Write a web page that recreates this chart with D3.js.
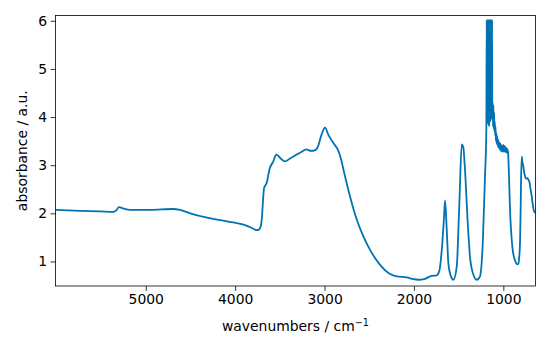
<!DOCTYPE html>
<html>
<head>
<meta charset="utf-8">
<script src="https://cdn.jsdelivr.net/npm/d3@7"></script>
<style>
  body { margin: 0; background: #fff; }
  svg { font-family: "DejaVu Sans", sans-serif; }
</style>
</head>
<body>
<div id="chart"></div>
<script>
// spectrum (wavenumber in cm^-1, absorbance)
const wavenumbers = [
  6010, 5735, 5511, 5366, 5332, 5299, 5265, 5176, 4952, 4695, 4616, 4504, 4314, 4169, 4023,
  3867, 3800, 3758, 3733, 3716, 3699, 3688, 3677, 3646, 3617, 3573, 3542, 3520, 3498, 3442,
  3386, 3330, 3274, 3199, 3162, 3125, 3080, 3031, 2994, 2957, 2901, 2846, 2827, 2771, 2715,
  2640, 2566, 2491, 2379, 2267, 2192, 2080, 2021, 1951, 1876, 1801, 1745, 1716, 1686, 1664,
  1652, 1633, 1615, 1588, 1559, 1521, 1492, 1465, 1448, 1429, 1398, 1373, 1339, 1297, 1261,
  1230, 1205, 1190,
  1186, 1183, 1180, 1177, 1174, 1171, 1168, 1165, 1162, 1159, 1156, 1153, 1150, 1147, 1144,
  1141, 1138, 1135, 1132, 1129, 1126, 1123,
  1119, 1115, 1111, 1107, 1103, 1099, 1095, 1091, 1087, 1083, 1079, 1075, 1071, 1067, 1063,
  1059, 1055, 1051, 1047, 1043, 1039, 1035, 1031, 1027, 1023, 1019, 1015, 1011, 1007, 1003,
  999, 995, 991, 987, 983, 979, 975, 971, 967, 963, 959, 955, 951, 947,
  937, 925, 910, 895, 875, 858, 845, 832, 822, 813, 806, 802, 794, 785, 776,
  767, 757, 744, 731, 720, 709, 695, 682, 670, 656, 640
];
const absorbance = [
  2.07, 2.05, 2.04, 2.03, 2.06, 2.13, 2.11, 2.07, 2.07, 2.09, 2.07, 2.00, 1.91, 1.86, 1.81,
  1.74, 1.68, 1.65, 1.66, 1.72, 1.95, 2.28, 2.52, 2.64, 2.91, 3.08, 3.22, 3.20, 3.15, 3.08,
  3.14, 3.20, 3.26, 3.33, 3.30, 3.30, 3.36, 3.65, 3.78, 3.63, 3.46, 3.30, 3.20, 2.77, 2.35,
  1.87, 1.52, 1.24, 0.93, 0.74, 0.69, 0.67, 0.64, 0.62, 0.64, 0.70, 0.71, 0.80, 1.30, 1.90,
  2.27, 1.66, 0.97, 0.70, 0.62, 0.90, 2.20, 3.43, 3.38, 2.91, 1.80, 1.10, 0.75, 0.62, 0.69,
  1.38, 2.77, 3.74,
  6.02, 3.90, 6.02, 4.10, 6.02, 3.85, 6.02, 4.00, 6.02, 3.80, 6.02, 4.20, 6.02, 3.90, 6.02,
  4.10, 6.02, 3.95, 6.02, 4.30, 6.02, 4.00,
  4.30, 3.80, 4.25, 3.75, 4.10, 3.70, 3.90, 3.62, 3.80, 3.50, 3.68, 3.45, 3.62, 3.42, 3.55,
  3.38, 3.52, 3.36, 3.48, 3.34, 3.46, 3.32, 3.44, 3.30, 3.42, 3.30, 3.40, 3.28, 3.40, 3.30,
  3.42, 3.28, 3.38, 3.30, 3.40, 3.27, 3.37, 3.28, 3.36, 3.26, 3.35, 3.27, 3.32, 3.28,
  2.80, 2.07, 1.55, 1.24, 1.05, 0.97, 0.94, 0.95, 1.10, 1.39, 2.10, 2.64, 3.18, 3.05, 2.98,
  2.85, 2.77, 2.72, 2.73, 2.70, 2.66, 2.50, 2.35, 2.18, 2.04, 2.01
];
const xTicks = [5000, 4000, 3000, 2000, 1000];
const yTicks = [1, 2, 3, 4, 5, 6];

const data = wavenumbers.map((w, i) => ({ w, a: absorbance[i] }));

const W = 550, H = 350;
const margin = { top: 15.5, right: 14.5, bottom: 64, left: 55.5 };
const width = W - margin.left - margin.right;
const height = H - margin.top - margin.bottom;

const svg = d3.select('#chart').append('svg')
  .attr('width', W)
  .attr('height', H);

const g = svg.append('g')
  .attr('transform', `translate(${margin.left},${margin.top})`);

const x = d3.scaleLinear().domain([6010, 640]).range([0, width]);
const y = d3.scaleLinear().domain([0.49, 6.11]).range([height, 0]);

g.append('clipPath').attr('id', 'clip')
  .append('rect').attr('width', width).attr('height', height);

const line = d3.line()
  .x(d => x(d.w))
  .y(d => y(d.a))
  .curve(d3.curveMonotoneX);

g.append('path')
  .datum(data)
  .attr('clip-path', 'url(#clip)')
  .attr('fill', 'none')
  .attr('stroke', '#0173b2')
  .attr('stroke-width', 1.8)
  .attr('stroke-linejoin', 'round')
  .attr('d', line);

// axes
const xAxis = g.append('g')
  .attr('transform', `translate(0,${height})`)
  .call(d3.axisBottom(x).tickValues(xTicks).tickFormat(d3.format('d'))
    .tickSize(4.9).tickPadding(3.5).tickSizeOuter(0));
const yAxis = g.append('g')
  .call(d3.axisLeft(y).tickValues(yTicks).tickFormat(d3.format('d'))
    .tickSize(4.9).tickPadding(3.5).tickSizeOuter(0));

[xAxis, yAxis].forEach(a => {
  a.select('.domain').remove();
  a.selectAll('line').attr('stroke', '#000').attr('stroke-width', 0.8);
  a.selectAll('text').attr('font-size', 13.9).attr('fill', '#000')
    .attr('font-family', '"DejaVu Sans", sans-serif');
});

g.append('rect')
  .attr('width', width)
  .attr('height', height)
  .attr('fill', 'none')
  .attr('stroke', '#000')
  .attr('stroke-width', 0.8);

// labels
const xl = svg.append('text')
  .attr('x', margin.left + width / 2)
  .attr('y', 331)
  .attr('text-anchor', 'middle')
  .attr('font-size', 13.9)
  .text('wavenumbers / cm');
xl.append('tspan')
  .attr('font-size', 9.7)
  .attr('dy', -5)
  .text('\u22121');

svg.append('text')
  .attr('transform', `translate(27,${margin.top + height / 2}) rotate(-90)`)
  .attr('text-anchor', 'middle')
  .attr('font-size', 13.9)
  .text('absorbance / a.u.');
</script>
</body>
</html>
